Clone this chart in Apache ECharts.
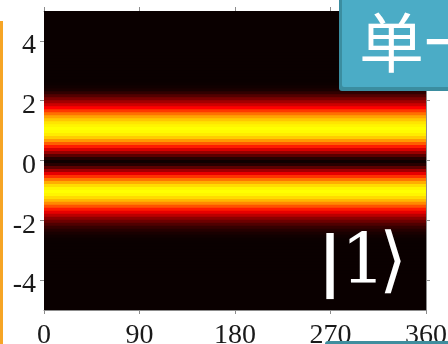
<!DOCTYPE html>
<html>
<head>
<meta charset="utf-8">
<script src="https://cdn.jsdelivr.net/npm/echarts@6/dist/echarts.min.js"></script>
<style>
  html, body { margin: 0; padding: 0; background: #ffffff; }
  #chart { width: 448px; height: 344px; }
</style>
</head>
<body>
<div id="chart"></div>
<script>
// Probability density of the |1> state: constant along the phase axis,
// one value per row of position x (step 0.1, from -5 to 5).
const phaseRange = [0, 360];
const phaseTicks = [0, 90, 180, 270, 360];
const positionTicks = [-4, -2, 0, 2, 4];

const rows = [
  -5.0, -4.9, -4.8, -4.7, -4.6, -4.5, -4.4, -4.3, -4.2, -4.1,
  -4.0, -3.9, -3.8, -3.7, -3.6, -3.5, -3.4, -3.3, -3.2, -3.1,
  -3.0, -2.9, -2.8, -2.7, -2.6, -2.5, -2.4, -2.3, -2.2, -2.1,
  -2.0, -1.9, -1.8, -1.7, -1.6, -1.5, -1.4, -1.3, -1.2, -1.1,
  -1.0, -0.9, -0.8, -0.7, -0.6, -0.5, -0.4, -0.3, -0.2, -0.1,
   0.0,
   0.1,  0.2,  0.3,  0.4,  0.5,  0.6,  0.7,  0.8,  0.9,  1.0,
   1.1,  1.2,  1.3,  1.4,  1.5,  1.6,  1.7,  1.8,  1.9,  2.0,
   2.1,  2.2,  2.3,  2.4,  2.5,  2.6,  2.7,  2.8,  2.9,  3.0,
   3.1,  3.2,  3.3,  3.4,  3.5,  3.6,  3.7,  3.8,  3.9,  4.0,
   4.1,  4.2,  4.3,  4.4,  4.5,  4.6,  4.7,  4.8,  4.9,  5.0
];

const density = [
  0, 0, 0, 0, 0, 0, 0, 0, 0, 0,
  0, 0, 0, 0, 0, 0, 0, 0, 0, 0,
  0, 0, 0, 0, 0.005, 0.015, 0.03, 0.055, 0.09, 0.14,
  0.20, 0.27, 0.36, 0.45, 0.55, 0.66, 0.77, 0.86, 0.93, 0.98,
  1.00, 0.98, 0.93, 0.84, 0.73, 0.60, 0.45, 0.31, 0.17, 0.06,
  0.01,
  0.06, 0.16, 0.29, 0.42, 0.55, 0.68, 0.80, 0.90, 0.96, 0.99,
  1.00, 0.98, 0.95, 0.89, 0.82, 0.72, 0.61, 0.50, 0.40, 0.31,
  0.23, 0.15, 0.08, 0.03, 0.015, 0.005, 0, 0, 0, 0,
  0, 0, 0, 0, 0, 0, 0, 0, 0, 0,
  0, 0, 0, 0, 0, 0, 0, 0, 0, 0
];

const halfRow = 0.05;
const seriesData = rows.map((y, i) => [phaseRange[0], y, density[i]]);

const chart = echarts.init(document.getElementById('chart'), null, { renderer: 'canvas' });

const axisGray = '#8c8c8c';
const labelFont = {
  fontFamily: 'Liberation Serif',
  fontSize: 28,
  color: '#1a1a1a'
};
const boxLine = { show: true, onZero: false, lineStyle: { color: axisGray, width: 1 } };

const option = {
  animation: false,
  backgroundColor: '#ffffff',
  grid: {
    left: 44, right: 22, top: 11, bottom: 34,
    outerBoundsMode: 'none',
    containLabel: false,
    show: true, backgroundColor: '#0a0000', borderWidth: 0, borderColor: 'transparent'
  },
  visualMap: {
    type: 'continuous',
    show: false,
    min: 0,
    max: 1,
    dimension: 2,
    seriesIndex: 0,
    inRange: { color: ['#0a0000', '#ff0000', '#ffff00'] }
  },
  xAxis: [
    {
      type: 'value', position: 'bottom',
      min: phaseRange[0], max: phaseRange[1], interval: 90,
      axisLine: boxLine,
      axisTick: { show: true, inside: false, length: 4, lineStyle: { color: axisGray } },
      axisLabel: Object.assign({ margin: 12, customValues: phaseTicks }, labelFont),
      splitLine: { show: false }
    },
    {
      type: 'value', position: 'top',
      min: phaseRange[0], max: phaseRange[1], interval: 90,
      axisLine: boxLine,
      axisTick: { show: true, inside: false, length: 4, lineStyle: { color: axisGray } },
      axisLabel: { show: false },
      splitLine: { show: false }
    }
  ],
  yAxis: [
    {
      type: 'value', position: 'left',
      min: -5, max: 5,
      axisLine: boxLine,
      axisTick: { show: true, inside: false, length: 4, customValues: positionTicks, lineStyle: { color: axisGray } },
      axisLabel: Object.assign({
        margin: 8, customValues: positionTicks,
        verticalAlign: 'top', lineHeight: 10
      }, labelFont),
      splitLine: { show: false }
    },
    {
      type: 'value', position: 'right',
      min: -5, max: 5,
      axisLine: boxLine,
      axisTick: { show: true, inside: false, length: 4, customValues: positionTicks, lineStyle: { color: axisGray } },
      axisLabel: { show: false },
      splitLine: { show: false }
    }
  ],
  series: [
    {
      type: 'custom',
      xAxisIndex: 0,
      yAxisIndex: 0,
      clip: true,
      encode: { x: 0, y: 1 },
      data: seriesData,
      renderItem: function (params, api) {
        const y = api.value(1);
        const topLeft = api.coord([phaseRange[0], y + halfRow]);
        const bottomRight = api.coord([phaseRange[1], y - halfRow]);
        return {
          type: 'rect',
          shape: {
            x: topLeft[0],
            y: topLeft[1],
            width: bottomRight[0] - topLeft[0],
            height: bottomRight[1] - topLeft[1] + 1
          },
          style: { fill: api.visual('color') }
        };
      }
    }
  ],
  graphic: [
    // orange slide accent on the left
    { type: 'rect', left: 0, top: 21, shape: { width: 3, height: 330 }, style: { fill: '#f6a526' }, z: 10 },
    // title tab in the top-right corner
    { type: 'rect', shape: { x: 339, y: -12, width: 120, height: 103, r: 3 }, style: { fill: '#3b8da0' }, z: 10 },
    { type: 'rect', shape: { x: 342, y: -12, width: 120, height: 99, r: 2 }, style: { fill: '#4bacc6' }, z: 11 },
    {
      type: 'text', x: 359, y: 42, z: 12,
      style: {
        text: '单一', fill: '#ffffff',
        font: '65px "Noto Sans CJK SC"',
        textVerticalAlign: 'middle'
      }
    },
    // ket label |1⟩
    {
      type: 'text', x: 318, y: 266, z: 12,
      style: { text: '|', fill: '#ffffff', font: 'bold 66px "DejaVu Sans"', textVerticalAlign: 'middle' }
    },
    {
      type: 'text', x: 341, y: 265, z: 12,
      style: { text: '1', fill: '#ffffff', font: '70px "DejaVu Serif"', textVerticalAlign: 'middle' }
    },
    {
      type: 'text', x: 379, y: 265, z: 12,
      style: { text: '⟩', fill: '#ffffff', font: '72px "DejaVu Serif"', textVerticalAlign: 'middle' }
    },
    // bottom tab edge
    { type: 'rect', shape: { x: 325, y: 341, width: 130, height: 10, r: 3 }, style: { fill: '#3f8e9e' }, z: 10 }
  ]
};

chart.setOption(option);
</script>
</body>
</html>
